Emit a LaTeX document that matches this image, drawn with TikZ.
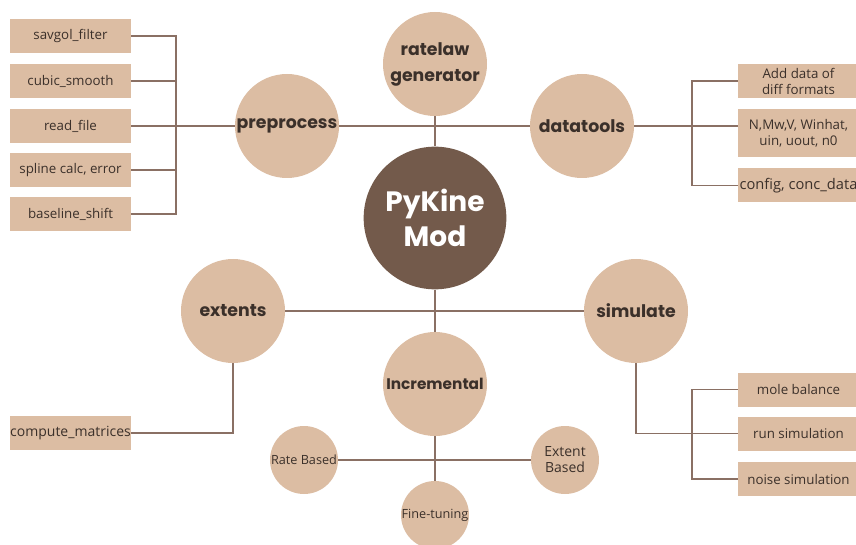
\documentclass[tikz,border=0pt]{standalone}
\usepackage{fontspec}
\setmainfont{Open Sans}
\newfontfamily\headfont{Poppins}
\usetikzlibrary{backgrounds}
\definecolor{kinetan}{HTML}{DCBDA3}
\definecolor{kinebrown}{HTML}{735A4B}
\definecolor{kineline}{HTML}{8A7064}
\definecolor{kinetext}{HTML}{3B302A}

\tikzset{
  topic/.style={circle, fill=kinetan, minimum size=78pt, inner sep=0pt, text=kinetext,
    font=\headfont\bfseries\fontsize{13}{19.5}\selectfont, align=center},
  hub/.style={circle, fill=kinebrown, minimum size=107pt, inner sep=0pt, text=white,
    font=\headfont\bfseries\fontsize{21}{26}\selectfont, align=center},
  leaf/.style={fill=kinetan, minimum width=91pt, minimum height=25.5pt, inner sep=0pt,
    text=kinetext, font=\fontsize{10}{12}\selectfont, align=center},
  subtopic/.style={circle, fill=kinetan, minimum size=51pt, inner sep=0pt, text=kinetext,
    font=\fontsize{9.5}{11.5}\selectfont, align=center},
  link/.style={draw=kineline, line width=0.9pt},
}

\begin{document}
\begin{tikzpicture}[x=0.75pt, y=-0.75pt]
    \useasboundingbox (0,0) rectangle (856,545);

    % centre and main topics
    \node[hub] (hub) at (435,218) {PyKine\\Mod};
    \node[topic] (ratelaw) at (435,64) {ratelaw\\generator};
    \node[topic] (preprocess) at (287,126) {preprocess};
    \node[topic] (datatools) at (582,126) {datatools};
    \node[topic] (extents) at (233,311) {extents};
    \node[topic] (simulate) at (636,311) {simulate};
    \node[topic, font=\headfont\bfseries\fontsize{11.5}{14}\selectfont] (incremental) at (435,384) {Incremental};

    % incremental sub topics
    \node[subtopic] (ratebased) at (304,460) {Rate Based};
    \node[subtopic, font=\fontsize{10.5}{12}\selectfont] (extentbased) at (565,460) {Extent\\Based};
    \node[subtopic] (finetune) at (435,515) {Fine-tuning};

    % preprocess leaves
    \node[leaf] (savgol) at (70.5,36) {savgol\_filter};
    \node[leaf] (cubic) at (70.5,81) {cubic\_smooth};
    \node[leaf] (readfile) at (70.5,126) {read\_file};
    \node[leaf] (spline) at (70.5,170) {spline calc, error};
    \node[leaf] (baseline) at (70.5,214) {baseline\_shift};

    % datatools leaves
    \node[leaf] (adddata) at (798.5,81) {Add data of\\diff formats};
    \node[leaf, minimum height=36pt] (nmwv) at (798.5,133) {N,Mw,V, Winhat,\\uin, uout, n0};
    \node[leaf, font=\fontsize{11}{12}\selectfont] (config) at (798.5,185.5) {config, conc\_data};

    % extents and simulate leaves
    \node[leaf, font=\fontsize{10.5}{12}\selectfont] (compute) at (70.5,433) {compute\_matrices};
    \node[leaf] (mole) at (798.5,389.5) {mole balance};
    \node[leaf] (runsim) at (798.5,433.5) {run simulation};
    \node[leaf] (noise) at (798.5,479) {noise simulation};

    \coordinate (lbr) at (176,126);
    \coordinate (rbr) at (692,126);
    \coordinate (sbr) at (692,433.5);

    \begin{scope}[on background layer]
        \draw[link] (readfile.east) -- (preprocess) -- (datatools);
        \draw[link] (ratelaw) -- (hub) -- (incremental) -- (finetune);
        \draw[link] (extents) -- (simulate);
        \draw[link] (ratebased) -- (extentbased);

        \draw[link] (savgol.east) -| (lbr) |- (baseline.east);
        \foreach \n in {cubic, spline}
            \draw[link] (\n.east) -- (\n.east -| lbr);

        \draw[link] (adddata.west) -| (rbr) |- (config.west);
        \draw[link] (datatools.east) -- (datatools.east -| nmwv.west);

        \draw[link] (compute.east) -| (extents.south);
        \draw[link] (simulate.south) |- (runsim.west);
        \draw[link] (mole.west) -| (sbr) |- (noise.west);
    \end{scope}
\end{tikzpicture}
\end{document}
